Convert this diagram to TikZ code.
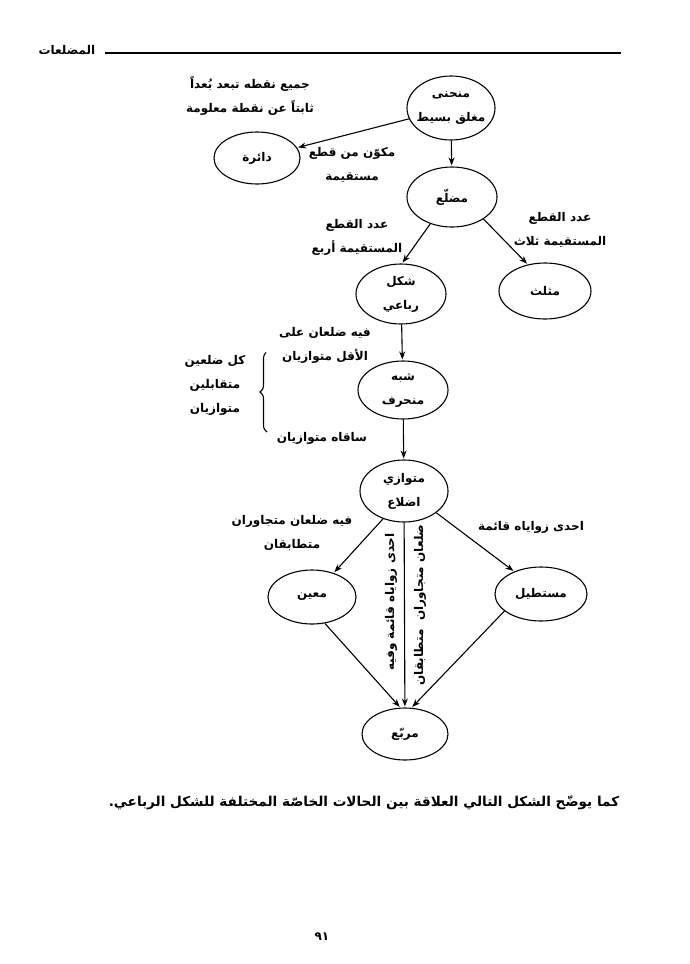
\documentclass[tikz,border=0pt]{standalone}
\usepackage{fontspec}
\usetikzlibrary{shapes.geometric,arrows.meta,decorations.pathreplacing}
\newfontfamily\arabicfont[Script=Arabic]{DejaVu Sans}
\TeXXeTstate=1
\newcommand{\artxt}[1]{\beginR #1\endR}

\begin{document}
\begin{tikzpicture}[x=1pt,y=-1pt,line width=1.1pt,shorten >=1pt,>={Stealth[length=8pt,width=6pt]},
    font=\arabicfont\bfseries\fontsize{12}{24}\selectfont]
    \tikzstyle{oval}=[draw,shape=ellipse,minimum width=88,minimum height=58,inner sep=1,align=center]
    \tikzstyle{note}=[align=center,inner sep=0]
    \useasboundingbox (0,0) rectangle (689,964);

    % header
    \node(title) at (67,50){\artxt{المضلعات}};
    \draw[line width=1.3pt] (105,53) -- (622,53);

    \node[oval,minimum height=64](curve) at (451,108){\artxt{منحنى}\\\makebox[58pt]{\artxt{مغلق بسيط}}};
    \node[oval,minimum width=86,minimum height=52](daira) at (257,158){\artxt{دائرة}};
    \node[oval,minimum width=90,minimum height=60](polygon) at (452,197){\artxt{مضلّع}};
    \node[oval,minimum width=90,minimum height=60](quad) at (401,294){\artxt{شكل}\\\artxt{رباعي}};
    \node[oval,minimum width=92,minimum height=56](tri) at (545,291){\artxt{مثلث}};
    \node[oval,minimum width=90,minimum height=58](trap) at (403,390){\artxt{شبه}\\\artxt{منحرف}};
    \node[oval,minimum width=88,minimum height=62](para) at (404,491){\artxt{متوازي}\\\artxt{اضلاع}};
    \node[oval,minimum width=88,minimum height=54](rhombus) at (312,597){\artxt{معين}};
    \node[oval,minimum width=92,minimum height=54](rect) at (541,594){\artxt{مستطيل}};
    \node[oval,minimum width=86,minimum height=52](square) at (405,734){\artxt{مربّع}};

    \node[note] at (250,96){\artxt{جميع نقطه تبعد بُعداً}\\\artxt{ثابتاً عن نقطة معلومة}};
    \node[note] at (352,165){\artxt{مكوّن من قطع}\\\artxt{مستقيمة}};
    \node[note] at (357,237){\artxt{عدد القطع}\\\artxt{المستقيمة أربع}};
    \node[note] at (560,230){\artxt{عدد القطع}\\\artxt{المستقيمة ثلاث}};
    \node[note] at (325,345){\artxt{فيه ضلعان على}\\\artxt{الأقل متوازيان}};
    \node[note] at (215,385){\artxt{كل ضلعين}\\\artxt{متقابلين}\\\artxt{متوازيان}};
    \node[note] at (322,438){\artxt{ساقاه متوازيان}};
    \node[note] at (292,533){\artxt{فيه ضلعان متجاوران}\\\artxt{متطابقان}};
    \node[note] at (531,527){\artxt{احدى زواياه قائمة}};
    \node[note,rotate=90] at (391,602){\artxt{احدى زواياه قائمة وفيه}};
    \node[note,rotate=90] at (420,605){\artxt{ضلعان متجاوران\ \ متطابقان}};

    \draw[decorate,decoration={brace,amplitude=7pt}] (267,432) -- (267,352);

    \draw [->] (curve) -- (daira);
    \draw [->] (curve) -- (polygon);
    \draw [->] (polygon.231) -- (quad.88);
    \draw [->] (polygon.-35) -- (tri.123);
    \draw [->] (quad) -- (trap);
    \draw [->] (trap) -- (para);
    \draw [->] (para.233) -- (rhombus.48);
    \draw [->] (para.-34) -- (rect.140);
    \draw [->] (para) -- (square);
    \draw [->] (rhombus.-64) -- (square.100);
    \draw [->] (rect.205) -- (square.76);

    \node(caption) at (364,803){\fontsize{13.6}{16}\selectfont\artxt{كما يوضّح الشكل التالي العلاقة بين الحالات الخاصّة المختلفة للشكل الرباعي.}};
    \node(page) at (322,937){٩١};
  \end{tikzpicture}
\end{document}
